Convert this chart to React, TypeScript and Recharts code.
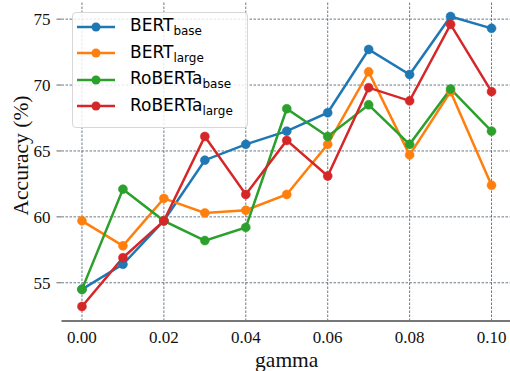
import React from 'react';
import { LineChart, Line, XAxis, YAxis, ReferenceLine } from 'recharts';

const gamma = [0, 0.01, 0.02, 0.03, 0.04, 0.05, 0.06, 0.07, 0.08, 0.09, 0.1];
const bertBase = [54.5, 56.4, 59.7, 64.3, 65.5, 66.5, 67.9, 72.7, 70.8, 75.2, 74.3];
const bertLarge = [59.7, 57.8, 61.4, 60.3, 60.5, 61.7, 65.5, 71.0, 64.7, 69.5, 62.4];
const robertaBase = [54.5, 62.1, 59.7, 58.2, 59.2, 68.2, 66.1, 68.5, 65.5, 69.7, 66.5];
const robertaLarge = [53.2, 56.9, 59.7, 66.1, 61.7, 65.8, 63.1, 69.8, 68.8, 74.6, 69.5];

const xTicks = [0, 0.02, 0.04, 0.06, 0.08, 0.1];
const yTicks = [55, 60, 65, 70, 75];

const series = [
  { key: 'bertBase', main: 'BERT', sub: 'base', color: '#1f77b4', values: bertBase },
  { key: 'bertLarge', main: 'BERT', sub: 'large', color: '#ff7f0e', values: bertLarge },
  { key: 'robertaBase', main: 'RoBERTa', sub: 'base', color: '#2ca02c', values: robertaBase },
  { key: 'robertaLarge', main: 'RoBERTa', sub: 'large', color: '#d62728', values: robertaLarge },
];

const data = gamma.map((g, i) => {
  const row: Record<string, number> = { gamma: g };
  series.forEach((s) => {
    row[s.key] = s.values[i];
  });
  return row;
});

const serif = '"Liberation Serif", "Times New Roman", serif';
const sans = '"DejaVu Sans", sans-serif';
const gridStroke = '#46586a';

function LegendBox() {
  return (
    <div
      style={{
        position: 'absolute',
        left: 72,
        top: 12,
        width: 176,
        height: 116,
        boxSizing: 'border-box',
        border: '1px solid #d8d8d8',
        borderRadius: 4,
        background: 'rgba(255,255,255,0.82)',
        fontFamily: sans,
        color: '#000',
      }}
    >
      {series.map((s, i) => (
        <div
          key={s.key}
          style={{
            position: 'absolute',
            left: 4,
            top: 0.5 + i * 26.6,
            height: 26,
            display: 'flex',
            alignItems: 'center',
          }}
        >
          <svg width={40} height={12} style={{ display: 'block' }}>
            <line x1={0} y1={6} x2={38} y2={6} stroke={s.color} strokeWidth={2.5} />
            <circle cx={19} cy={6} r={4.5} fill={s.color} />
          </svg>
          <span style={{ marginLeft: 13, fontSize: 17, lineHeight: '17px', whiteSpace: 'nowrap' }}>
            {s.main}
            <span style={{ fontSize: 12, position: 'relative', top: 4 }}>{s.sub}</span>
          </span>
        </div>
      ))}
    </div>
  );
}

function YLabel(props: any) {
  const vb = props.viewBox || { x: 0, y: 0, width: 0, height: 0 };
  const cx = vb.x + 21;
  const cy = vb.y + vb.height / 2 - 6;
  return (
    <text
      x={cx}
      y={cy}
      dy="0.33em"
      transform={`rotate(-90, ${cx}, ${cy})`}
      textAnchor="middle"
      fontSize={21.5}
      fontFamily={serif}
      fill="#111"
    >
      Accuracy (%)
    </text>
  );
}

export default function App() {
  return (
    <div
      style={{
        position: 'absolute',
        left: 0,
        top: 0,
        width: 510,
        height: 371,
        overflow: 'hidden',
        background: '#fff',
      }}
    >
      <LineChart width={512} height={371} data={data} margin={{ top: 2, right: 0, left: 0, bottom: 0 }}>
        {xTicks.map((t) => (
          <ReferenceLine
            key={`vx${t}`}
            x={t}
            stroke={gridStroke}
            strokeDasharray="2.5 1.5"
            strokeWidth={0.8}
          />
        ))}
        {yTicks.map((t) => (
          <ReferenceLine
            key={`hy${t}`}
            y={t}
            stroke={gridStroke}
            strokeDasharray="2.5 1.5"
            strokeWidth={0.8}
          />
        ))}
        <XAxis
          dataKey="gamma"
          type="number"
          domain={[-0.005, 0.105]}
          ticks={xTicks}
          allowDataOverflow
          tickFormatter={(v: number) => v.toFixed(2)}
          height={50}
          axisLine={{ stroke: '#777', strokeWidth: 2 }}
          tickLine={false}
          tickSize={0}
          tickMargin={10}
          tick={{ fill: '#111', fontSize: 17, fontFamily: serif }}
          label={{
            value: 'gamma',
            position: 'insideBottom',
            offset: 4.5,
            fontSize: 21.5,
            fontFamily: serif,
            fill: '#111',
          }}
        />
        <YAxis
          type="number"
          domain={[52.1, 76.3]}
          ticks={yTicks}
          allowDataOverflow
          width={61.5}
          axisLine={{ stroke: 'none', strokeWidth: 0 }}
          tickLine={{ stroke: '#666', strokeWidth: 1 }}
          tickSize={5}
          tickMargin={6}
          tick={{ fill: '#111', fontSize: 17, fontFamily: serif }}
          label={{ content: YLabel, position: 'insideLeft' }}
        />
        {series.map((s) => (
          <Line
            key={s.key}
            dataKey={s.key}
            name={`${s.main}${s.sub}`}
            type="linear"
            stroke={s.color}
            strokeWidth={2.5}
            dot={{ r: 4.5, fill: s.color, stroke: s.color, strokeWidth: 0.5 }}
            activeDot={false}
            isAnimationActive={false}
          />
        ))}
      </LineChart>
      <LegendBox />
    </div>
  );
}
